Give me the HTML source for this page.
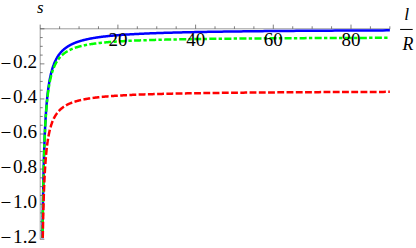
<!DOCTYPE html>
<html><head><meta charset="utf-8"><title>plot</title>
<style>
html,body{margin:0;padding:0;background:#fff;}
body{width:416px;height:248px;overflow:hidden;font-family:"Liberation Serif",serif;}
svg{display:block;}
</style></head><body>
<svg width="416" height="248" viewBox="0 0 416 248">
<rect width="416" height="248" fill="#fff"/>
<g stroke="#666" stroke-width="0.65" fill="none">
<line x1="40.2" y1="28.8" x2="390.15" y2="28.8"/>
<line x1="40.2" y1="28.8" x2="40.2" y2="239.52"/>
</g>
<g stroke="#484848" stroke-width="0.7" fill="none">
<line x1="40.20" y1="28.80" x2="40.20" y2="24.60"/>
<line x1="59.62" y1="28.80" x2="59.62" y2="26.30"/>
<line x1="79.05" y1="28.80" x2="79.05" y2="26.30"/>
<line x1="98.47" y1="28.80" x2="98.47" y2="26.30"/>
<line x1="117.90" y1="28.80" x2="117.90" y2="24.60"/>
<line x1="137.32" y1="28.80" x2="137.32" y2="26.30"/>
<line x1="156.75" y1="28.80" x2="156.75" y2="26.30"/>
<line x1="176.18" y1="28.80" x2="176.18" y2="26.30"/>
<line x1="195.60" y1="28.80" x2="195.60" y2="24.60"/>
<line x1="215.02" y1="28.80" x2="215.02" y2="26.30"/>
<line x1="234.45" y1="28.80" x2="234.45" y2="26.30"/>
<line x1="253.88" y1="28.80" x2="253.88" y2="26.30"/>
<line x1="273.30" y1="28.80" x2="273.30" y2="24.60"/>
<line x1="292.72" y1="28.80" x2="292.72" y2="26.30"/>
<line x1="312.15" y1="28.80" x2="312.15" y2="26.30"/>
<line x1="331.57" y1="28.80" x2="331.57" y2="26.30"/>
<line x1="351.00" y1="28.80" x2="351.00" y2="24.60"/>
<line x1="370.42" y1="28.80" x2="370.42" y2="26.30"/>
<line x1="389.85" y1="28.80" x2="389.85" y2="26.30"/>
<line x1="40.20" y1="28.80" x2="44.40" y2="28.80"/>
<line x1="40.20" y1="37.57" x2="42.70" y2="37.57"/>
<line x1="40.20" y1="46.34" x2="42.70" y2="46.34"/>
<line x1="40.20" y1="55.10" x2="42.70" y2="55.10"/>
<line x1="40.20" y1="63.87" x2="44.40" y2="63.87"/>
<line x1="40.20" y1="72.64" x2="42.70" y2="72.64"/>
<line x1="40.20" y1="81.41" x2="42.70" y2="81.41"/>
<line x1="40.20" y1="90.17" x2="42.70" y2="90.17"/>
<line x1="40.20" y1="98.94" x2="44.40" y2="98.94"/>
<line x1="40.20" y1="107.71" x2="42.70" y2="107.71"/>
<line x1="40.20" y1="116.47" x2="42.70" y2="116.47"/>
<line x1="40.20" y1="125.24" x2="42.70" y2="125.24"/>
<line x1="40.20" y1="134.01" x2="44.40" y2="134.01"/>
<line x1="40.20" y1="142.78" x2="42.70" y2="142.78"/>
<line x1="40.20" y1="151.55" x2="42.70" y2="151.55"/>
<line x1="40.20" y1="160.31" x2="42.70" y2="160.31"/>
<line x1="40.20" y1="169.08" x2="44.40" y2="169.08"/>
<line x1="40.20" y1="177.85" x2="42.70" y2="177.85"/>
<line x1="40.20" y1="186.62" x2="42.70" y2="186.62"/>
<line x1="40.20" y1="195.38" x2="42.70" y2="195.38"/>
<line x1="40.20" y1="204.15" x2="44.40" y2="204.15"/>
<line x1="40.20" y1="212.92" x2="42.70" y2="212.92"/>
<line x1="40.20" y1="221.69" x2="42.70" y2="221.69"/>
<line x1="40.20" y1="230.45" x2="42.70" y2="230.45"/>
<line x1="40.20" y1="239.22" x2="44.40" y2="239.22"/>
</g>
<g fill="none" stroke-width="2.5" stroke-linejoin="round">
<path stroke="#0000ff" d="M42.51 238.34L42.53 236.25L42.55 234.17L42.58 232.12L42.60 230.08L42.62 228.07L42.65 226.08L42.67 224.10L42.70 222.15L42.72 220.21L42.75 218.30L42.78 216.40L42.80 214.53L42.83 212.67L42.85 210.83L42.88 209.01L42.91 207.21L42.94 205.42L42.96 203.66L42.99 201.91L43.02 200.17L43.05 198.46L43.08 196.76L43.11 195.08L43.14 193.42L43.17 191.77L43.20 190.14L43.23 188.53L43.26 186.93L43.29 185.35L43.32 183.78L43.35 182.23L43.38 180.70L43.41 179.18L43.45 177.68L43.48 176.19L43.51 174.71L43.55 173.25L43.58 171.81L43.61 170.38L43.65 168.96L43.68 167.56L43.72 166.17L43.75 164.80L43.79 163.44L43.83 162.09L43.86 160.76L43.90 159.44L43.94 158.14L43.98 156.84L44.01 155.56L44.05 154.29L44.09 153.04L44.13 151.80L44.17 150.57L44.21 149.35L44.25 148.15L44.29 146.95L44.33 145.77L44.37 144.60L44.42 143.44L44.46 142.30L44.50 141.16L44.55 140.04L44.59 138.93L44.63 137.83L44.68 136.74L44.72 135.66L44.77 134.59L44.82 133.53L44.86 132.48L44.91 131.45L44.96 130.42L45.01 129.41L45.06 128.40L45.10 127.41L45.15 126.42L45.20 125.44L45.25 124.48L45.31 123.52L45.36 122.58L45.41 121.64L45.46 120.71L45.52 119.79L45.57 118.88L45.62 117.98L45.68 117.09L45.73 116.21L45.79 115.34L45.85 114.47L45.90 113.61L45.96 112.77L46.02 111.93L46.08 111.10L46.14 110.28L46.20 109.46L46.26 108.66L46.32 107.86L46.38 107.07L46.44 106.29L46.51 105.51L46.57 104.75L46.64 103.99L46.70 103.24L46.77 102.49L46.83 101.76L46.90 101.03L46.97 100.31L47.04 99.59L47.11 98.88L47.17 98.18L47.25 97.49L47.32 96.81L47.39 96.13L47.46 95.45L47.53 94.79L47.61 94.13L47.68 93.48L47.76 92.83L47.84 92.19L47.91 91.56L47.99 90.93L48.07 90.31L48.15 89.70L48.23 89.09L48.31 88.49L48.39 87.89L48.48 87.30L48.56 86.72L48.64 86.14L48.73 85.57L48.82 85.00L48.90 84.44L48.99 83.88L49.08 83.33L49.17 82.79L49.26 82.25L49.35 81.72L49.45 81.19L49.54 80.67L49.63 80.15L49.73 79.64L49.82 79.13L49.92 78.63L50.02 78.13L50.12 77.64L50.22 77.15L50.32 76.67L50.42 76.19L50.53 75.72L50.63 75.25L50.74 74.79L50.84 74.33L50.95 73.87L51.06 73.42L51.17 72.98L51.28 72.54L51.39 72.10L51.51 71.67L51.62 71.24L51.74 70.82L51.85 70.40L51.97 69.99L52.09 69.58L52.21 69.17L52.33 68.77L52.45 68.37L52.58 67.97L52.70 67.58L52.83 67.20L52.96 66.81L53.09 66.44L53.22 66.06L53.35 65.69L53.48 65.32L53.62 64.96L53.75 64.60L53.89 64.24L54.03 63.89L54.17 63.54L54.31 63.19L54.45 62.85L54.59 62.51L54.74 62.17L54.89 61.84L55.04 61.51L55.19 61.19L55.34 60.86L55.49 60.54L55.65 60.23L55.80 59.92L55.96 59.61L56.12 59.30L56.28 59.00L56.44 58.70L56.61 58.40L56.77 58.10L56.94 57.81L57.11 57.52L57.28 57.24L57.45 56.95L57.63 56.67L57.80 56.40L57.98 56.12L58.16 55.85L58.34 55.58L58.53 55.31L58.71 55.05L58.90 54.79L59.09 54.53L59.28 54.28L59.47 54.02L59.67 53.77L59.86 53.52L60.06 53.28L60.26 53.03L60.47 52.79L60.67 52.55L60.88 52.32L61.09 52.08L61.30 51.85L61.51 51.62L61.73 51.40L61.95 51.17L62.17 50.95L62.39 50.73L62.61 50.51L62.84 50.30L63.07 50.08L63.30 49.87L63.53 49.66L63.77 49.46L64.01 49.25L64.25 49.05L64.49 48.85L64.74 48.65L64.99 48.45L65.24 48.26L65.49 48.06L65.75 47.87L66.00 47.68L66.27 47.50L66.53 47.31L66.80 47.13L67.06 46.94L67.34 46.76L67.61 46.59L67.89 46.41L68.17 46.24L68.45 46.06L68.74 45.89L69.02 45.72L69.32 45.55L69.61 45.39L69.91 45.22L70.21 45.06L70.51 44.90L70.82 44.74L71.13 44.58L71.44 44.43L71.76 44.27L72.08 44.12L72.40 43.97L72.72 43.82L73.05 43.67L73.39 43.52L73.72 43.38L74.06 43.23L74.40 43.09L74.75 42.95L75.10 42.81L75.45 42.67L75.81 42.53L76.17 42.40L76.53 42.26L76.90 42.13L77.27 42.00L77.65 41.87L78.02 41.74L78.41 41.61L78.79 41.48L79.18 41.36L79.58 41.23L79.98 41.11L80.38 40.99L80.78 40.87L81.20 40.75L81.61 40.63L82.03 40.52L82.45 40.40L82.88 40.29L83.31 40.17L83.75 40.06L84.19 39.95L84.63 39.84L85.08 39.73L85.54 39.62L85.99 39.52L86.46 39.41L86.92 39.31L87.40 39.20L87.87 39.10L88.36 39.00L88.84 38.90L89.34 38.80L89.83 38.70L90.33 38.60L90.84 38.51L91.35 38.41L91.87 38.32L92.39 38.22L92.92 38.13L93.46 38.04L93.99 37.95L94.54 37.86L95.09 37.77L95.64 37.68L96.20 37.59L96.77 37.51L97.34 37.42L97.92 37.34L98.50 37.25L99.09 37.17L99.69 37.09L100.29 37.01L100.90 36.93L101.51 36.85L102.13 36.77L102.76 36.69L103.39 36.61L104.03 36.54L104.68 36.46L105.33 36.39L105.99 36.31L106.65 36.24L107.32 36.17L108.00 36.09L108.69 36.02L109.38 35.95L110.08 35.88L110.79 35.81L111.50 35.75L112.22 35.68L112.95 35.61L113.69 35.54L114.43 35.48L115.18 35.41L115.94 35.35L116.71 35.28L117.48 35.22L118.26 35.16L119.05 35.10L119.85 35.04L120.65 34.98L121.47 34.92L122.29 34.86L123.12 34.80L123.96 34.74L124.81 34.68L125.66 34.62L126.53 34.57L127.40 34.51L128.28 34.46L129.17 34.40L130.07 34.35L130.98 34.29L131.90 34.24L132.83 34.19L133.76 34.13L134.71 34.08L135.67 34.03L136.63 33.98L137.61 33.93L138.59 33.88L139.59 33.83L140.59 33.78L141.61 33.74L142.63 33.69L143.67 33.64L144.72 33.59L145.77 33.55L146.84 33.50L147.92 33.46L149.01 33.41L150.11 33.37L151.22 33.32L152.34 33.28L153.48 33.24L154.62 33.19L155.78 33.15L156.95 33.11L158.13 33.07L159.32 33.03L160.53 32.99L161.75 32.95L162.97 32.91L164.22 32.87L165.47 32.83L166.74 32.79L168.02 32.75L169.31 32.71L170.62 32.68L171.94 32.64L173.27 32.60L174.61 32.57L175.97 32.53L177.35 32.50L178.73 32.46L180.13 32.42L181.55 32.39L182.98 32.36L184.42 32.32L185.88 32.29L187.36 32.26L188.84 32.22L190.35 32.19L191.87 32.16L193.40 32.13L194.95 32.09L196.51 32.06L198.10 32.03L199.69 32.00L201.31 31.97L202.93 31.94L204.58 31.91L206.24 31.88L207.92 31.85L209.62 31.82L211.33 31.80L213.06 31.77L214.81 31.74L216.58 31.71L218.36 31.68L220.16 31.66L221.98 31.63L223.82 31.60L225.68 31.58L227.56 31.55L229.45 31.53L231.36 31.50L233.30 31.48L235.25 31.45L237.22 31.43L239.22 31.40L241.23 31.38L243.26 31.35L245.32 31.33L247.39 31.31L249.49 31.28L251.60 31.26L253.74 31.24L255.90 31.21L258.08 31.19L260.29 31.17L262.51 31.15L264.76 31.12L267.03 31.10L269.33 31.08L271.64 31.06L273.98 31.04L276.35 31.02L278.74 31.00L281.15 30.98L283.59 30.96L286.05 30.94L288.54 30.92L291.05 30.90L293.58 30.88L296.15 30.86L298.74 30.84L301.35 30.82L303.99 30.81L306.66 30.79L309.35 30.77L312.08 30.75L314.83 30.73L317.60 30.72L320.41 30.70L323.24 30.68L326.11 30.66L329.00 30.65L331.92 30.63L334.87 30.61L337.85 30.60L340.86 30.58L343.90 30.56L346.97 30.55L350.08 30.53L353.21 30.52L356.38 30.50L359.57 30.49L362.80 30.47L366.07 30.46L369.36 30.44L372.69 30.43L376.05 30.41L379.45 30.40L382.88 30.38L386.35 30.37L389.85 30.36"/>
<path stroke="#00ff00" stroke-dasharray="0.00 0.57 3.34 2.39 7.05 2.28 3.34 2.39 7.05 2.28 3.34 2.39 7.05 2.28 3.34 2.39 7.05 2.28 3.34 2.38 7.05 2.28 3.34 2.39 7.05 2.28 3.34 2.38 7.05 2.28 3.34 2.38 7.05 2.28 3.34 2.32 7.05 2.28 3.34 2.29 7.05 2.28 3.34 2.29 7.05 2.28 3.34 2.29 7.05 2.28 3.34 2.29 7.05 2.28 3.34 2.29 7.05 2.28 3.34 2.29 7.05 2.28 3.34 2.29 7.05 2.28 3.34 2.29 7.05 2.28 3.34 2.33 7.05 2.28 3.34 2.38 7.05 2.28 3.34 2.38 7.05 2.28 3.34 2.38 7.05 2.28 3.34 2.38 7.05 2.28 3.34 2.38 7.05 2.28 3.34 2.38 7.05 2.28 3.34 2.38 7.05 2.28 3.34 2.38 7.05 2.28 3.34 2.38 7.05 2.28 3.34 2.38 7.05 2.28 3.34 2.38 7.05 2.28 3.34 2.38 7.05 2.28 3.34 2.38 7.05 2.28 3.34 2.38 7.05 2.28 3.34 2.38 7.05 2.28 3.34 2.38 7.05 2.28 3.34 2.39 7.05 2.28 3.34 2.38 7.05 2.28 3.34 50.00" d="M42.51 238.34L42.54 236.26L42.56 234.20L42.58 232.16L42.61 230.15L42.63 228.15L42.66 226.17L42.68 224.21L42.71 222.27L42.73 220.36L42.76 218.46L42.78 216.58L42.81 214.72L42.84 212.87L42.86 211.05L42.89 209.24L42.92 207.46L42.94 205.69L42.97 203.94L43.00 202.20L43.03 200.49L43.06 198.79L43.09 197.11L43.12 195.44L43.14 193.79L43.17 192.16L43.20 190.55L43.23 188.95L43.27 187.37L43.30 185.80L43.33 184.25L43.36 182.72L43.39 181.20L43.42 179.69L43.46 178.21L43.49 176.73L43.52 175.27L43.56 173.83L43.59 172.40L43.62 170.99L43.66 169.59L43.69 168.20L43.73 166.83L43.76 165.47L43.80 164.13L43.84 162.79L43.87 161.48L43.91 160.17L43.95 158.88L43.99 157.60L44.02 156.34L44.06 155.09L44.10 153.85L44.14 152.62L44.18 151.41L44.22 150.21L44.26 149.02L44.30 147.84L44.34 146.67L44.39 145.52L44.43 144.38L44.47 143.25L44.52 142.13L44.56 141.02L44.60 139.93L44.65 138.84L44.69 137.77L44.74 136.71L44.78 135.65L44.83 134.61L44.88 133.58L44.92 132.56L44.97 131.55L45.02 130.55L45.07 129.56L45.12 128.58L45.17 127.61L45.22 126.66L45.27 125.71L45.32 124.77L45.37 123.84L45.42 122.92L45.48 122.00L45.53 121.10L45.58 120.21L45.64 119.33L45.69 118.45L45.75 117.59L45.80 116.73L45.86 115.88L45.92 115.04L45.98 114.21L46.03 113.39L46.09 112.58L46.15 111.77L46.21 110.98L46.27 110.19L46.34 109.41L46.40 108.63L46.46 107.87L46.52 107.11L46.59 106.36L46.65 105.62L46.72 104.89L46.78 104.16L46.85 103.45L46.92 102.74L46.98 102.03L47.05 101.34L47.12 100.65L47.19 99.96L47.26 99.29L47.33 98.62L47.41 97.96L47.48 97.31L47.55 96.66L47.63 96.02L47.70 95.38L47.78 94.76L47.86 94.13L47.93 93.52L48.01 92.91L48.09 92.31L48.17 91.71L48.25 91.13L48.33 90.54L48.41 89.96L48.50 89.39L48.58 88.83L48.66 88.27L48.75 87.72L48.84 87.17L48.92 86.63L49.01 86.09L49.10 85.56L49.19 85.03L49.28 84.51L49.37 84.00L49.47 83.49L49.56 82.99L49.66 82.49L49.75 82.00L49.85 81.51L49.94 81.03L50.04 80.55L50.14 80.08L50.24 79.61L50.34 79.14L50.45 78.69L50.55 78.23L50.66 77.79L50.76 77.34L50.87 76.90L50.98 76.47L51.08 76.04L51.19 75.61L51.31 75.19L51.42 74.78L51.53 74.37L51.65 73.96L51.76 73.56L51.88 73.16L52.00 72.76L52.12 72.37L52.24 71.99L52.36 71.60L52.48 71.22L52.60 70.85L52.73 70.48L52.86 70.11L52.98 69.75L53.11 69.39L53.24 69.04L53.38 68.69L53.51 68.34L53.64 68.00L53.78 67.66L53.92 67.32L54.06 66.99L54.20 66.66L54.34 66.34L54.48 66.01L54.62 65.69L54.77 65.38L54.92 65.07L55.07 64.76L55.22 64.45L55.37 64.15L55.52 63.85L55.68 63.56L55.83 63.27L55.99 62.98L56.15 62.69L56.31 62.41L56.47 62.13L56.64 61.85L56.81 61.58L56.97 61.31L57.14 61.04L57.31 60.78L57.49 60.51L57.66 60.25L57.84 60.00L58.02 59.74L58.20 59.49L58.38 59.25L58.56 59.00L58.75 58.76L58.94 58.52L59.12 58.28L59.32 58.04L59.51 57.81L59.70 57.58L59.90 57.35L60.10 57.13L60.30 56.91L60.51 56.69L60.71 56.47L60.92 56.25L61.13 56.04L61.34 55.83L61.55 55.62L61.77 55.42L61.99 55.21L62.21 55.01L62.43 54.81L62.65 54.61L62.88 54.42L63.11 54.23L63.34 54.04L63.57 53.85L63.81 53.66L64.05 53.48L64.29 53.29L64.53 53.11L64.78 52.93L65.03 52.76L65.28 52.58L65.53 52.41L65.79 52.24L66.05 52.07L66.31 51.90L66.57 51.74L66.84 51.58L67.11 51.41L67.38 51.25L67.66 51.10L67.93 50.94L68.21 50.78L68.50 50.63L68.78 50.48L69.07 50.33L69.36 50.18L69.66 50.04L69.96 49.89L70.26 49.75L70.56 49.61L70.87 49.47L71.18 49.33L71.49 49.19L71.81 49.06L72.13 48.92L72.45 48.79L72.77 48.66L73.10 48.53L73.44 48.40L73.77 48.28L74.11 48.15L74.45 48.03L74.80 47.91L75.15 47.78L75.50 47.67L75.86 47.55L76.22 47.43L76.59 47.31L76.95 47.20L77.32 47.09L77.70 46.97L78.08 46.86L78.46 46.75L78.85 46.65L79.24 46.54L79.63 46.43L80.03 46.33L80.43 46.23L80.84 46.12L81.25 46.02L81.67 45.92L82.09 45.82L82.51 45.73L82.94 45.63L83.37 45.53L83.81 45.44L84.25 45.34L84.69 45.25L85.14 45.16L85.60 45.07L86.05 44.98L86.52 44.89L86.99 44.80L87.46 44.72L87.94 44.63L88.42 44.55L88.91 44.46L89.40 44.38L89.90 44.30L90.40 44.22L90.91 44.14L91.42 44.06L91.94 43.98L92.46 43.90L92.99 43.83L93.52 43.75L94.06 43.68L94.60 43.60L95.15 43.53L95.71 43.46L96.27 43.39L96.84 43.32L97.41 43.25L97.99 43.18L98.57 43.11L99.16 43.04L99.76 42.97L100.36 42.91L100.97 42.84L101.58 42.78L102.20 42.71L102.83 42.65L103.46 42.59L104.10 42.53L104.75 42.47L105.40 42.40L106.06 42.35L106.72 42.29L107.40 42.23L108.08 42.17L108.76 42.11L109.45 42.06L110.15 42.00L110.86 41.94L111.58 41.89L112.30 41.84L113.03 41.78L113.76 41.73L114.51 41.68L115.26 41.63L116.02 41.57L116.78 41.52L117.56 41.47L118.34 41.42L119.13 41.37L119.93 41.33L120.73 41.28L121.55 41.23L122.37 41.18L123.20 41.14L124.04 41.09L124.88 41.05L125.74 41.00L126.60 40.96L127.48 40.91L128.36 40.87L129.25 40.83L130.15 40.79L131.06 40.74L131.98 40.70L132.91 40.66L133.84 40.62L134.79 40.58L135.75 40.54L136.71 40.50L137.69 40.46L138.67 40.42L139.67 40.39L140.67 40.35L141.69 40.31L142.71 40.28L143.75 40.24L144.80 40.20L145.85 40.17L146.92 40.13L148.00 40.10L149.09 40.06L150.19 40.03L151.30 40.00L152.43 39.96L153.56 39.93L154.71 39.90L155.86 39.86L157.03 39.83L158.21 39.80L159.41 39.77L160.61 39.74L161.83 39.71L163.06 39.68L164.30 39.65L165.55 39.62L166.82 39.59L168.10 39.56L169.39 39.53L170.70 39.50L172.02 39.48L173.35 39.45L174.70 39.42L176.06 39.39L177.43 39.37L178.82 39.34L180.22 39.32L181.63 39.29L183.06 39.26L184.51 39.24L185.96 39.21L187.44 39.19L188.93 39.16L190.43 39.14L191.95 39.12L193.48 39.09L195.03 39.07L196.60 39.05L198.18 39.02L199.77 39.00L201.39 38.98L203.02 38.96L204.66 38.93L206.32 38.91L208.00 38.89L209.70 38.87L211.41 38.85L213.14 38.83L214.89 38.81L216.66 38.79L218.44 38.77L220.24 38.75L222.06 38.73L223.90 38.71L225.76 38.69L227.63 38.67L229.53 38.65L231.44 38.63L233.37 38.61L235.33 38.59L237.30 38.58L239.29 38.56L241.30 38.54L243.33 38.52L245.39 38.51L247.46 38.49L249.56 38.47L251.67 38.45L253.81 38.44L255.97 38.42L258.15 38.40L260.35 38.39L262.58 38.37L264.83 38.36L267.10 38.34L269.39 38.33L271.71 38.31L274.05 38.30L276.41 38.28L278.80 38.27L281.21 38.25L283.64 38.24L286.11 38.22L288.59 38.21L291.10 38.19L293.64 38.18L296.20 38.17L298.79 38.15L301.40 38.14L304.04 38.13L306.71 38.11L309.40 38.10L312.12 38.09L314.87 38.07L317.65 38.06L320.45 38.05L323.28 38.04L326.14 38.02L329.03 38.01L331.95 38.00L334.90 37.99L337.88 37.98L340.89 37.97L343.93 37.95L347.00 37.94L350.10 37.93L353.23 37.92L356.40 37.91L359.59 37.90L362.82 37.89L366.08 37.88L369.38 37.87L372.70 37.86L376.06 37.85L379.46 37.84L382.89 37.83L386.35 37.82L389.85 37.81"/>
<path stroke="#ff0000" stroke-dasharray="6.85 2.395" stroke-dashoffset="8.785" d="M42.75 238.34L42.78 236.90L42.80 235.46L42.83 234.04L42.86 232.64L42.88 231.25L42.91 229.87L42.94 228.50L42.96 227.15L42.99 225.81L43.02 224.49L43.05 223.18L43.07 221.88L43.10 220.59L43.13 219.32L43.16 218.06L43.19 216.81L43.22 215.57L43.25 214.35L43.28 213.14L43.31 211.94L43.34 210.75L43.37 209.57L43.40 208.41L43.43 207.25L43.47 206.11L43.50 204.98L43.53 203.86L43.56 202.75L43.60 201.65L43.63 200.56L43.67 199.49L43.70 198.42L43.73 197.36L43.77 196.32L43.81 195.28L43.84 194.26L43.88 193.24L43.91 192.24L43.95 191.24L43.99 190.26L44.02 189.28L44.06 188.31L44.10 187.36L44.14 186.41L44.18 185.47L44.22 184.54L44.26 183.62L44.30 182.71L44.34 181.81L44.38 180.92L44.42 180.03L44.46 179.16L44.51 178.29L44.55 177.43L44.59 176.58L44.63 175.74L44.68 174.91L44.72 174.08L44.77 173.26L44.81 172.46L44.86 171.65L44.90 170.86L44.95 170.08L45.00 169.30L45.05 168.53L45.09 167.76L45.14 167.01L45.19 166.26L45.24 165.52L45.29 164.79L45.34 164.06L45.39 163.34L45.44 162.63L45.50 161.93L45.55 161.23L45.60 160.54L45.65 159.85L45.71 159.18L45.76 158.50L45.82 157.84L45.87 157.18L45.93 156.53L45.99 155.89L46.04 155.25L46.10 154.61L46.16 153.99L46.22 153.37L46.28 152.75L46.34 152.15L46.40 151.54L46.46 150.95L46.52 150.36L46.59 149.77L46.65 149.20L46.71 148.62L46.78 148.05L46.84 147.49L46.91 146.94L46.98 146.39L47.04 145.84L47.11 145.30L47.18 144.77L47.25 144.24L47.32 143.71L47.39 143.19L47.46 142.68L47.53 142.17L47.60 141.66L47.68 141.17L47.75 140.67L47.83 140.18L47.90 139.70L47.98 139.22L48.06 138.74L48.13 138.27L48.21 137.81L48.29 137.34L48.37 136.89L48.45 136.44L48.53 135.99L48.62 135.54L48.70 135.11L48.78 134.67L48.87 134.24L48.96 133.81L49.04 133.39L49.13 132.97L49.22 132.56L49.31 132.15L49.40 131.74L49.49 131.34L49.58 130.94L49.67 130.55L49.77 130.16L49.86 129.77L49.96 129.39L50.05 129.01L50.15 128.64L50.25 128.27L50.35 127.90L50.45 127.53L50.55 127.17L50.66 126.82L50.76 126.46L50.86 126.11L50.97 125.77L51.08 125.42L51.18 125.08L51.29 124.75L51.40 124.41L51.51 124.08L51.63 123.76L51.74 123.43L51.85 123.11L51.97 122.80L52.09 122.48L52.20 122.17L52.32 121.86L52.44 121.56L52.56 121.26L52.69 120.96L52.81 120.66L52.93 120.37L53.06 120.08L53.19 119.79L53.32 119.51L53.45 119.23L53.58 118.95L53.71 118.67L53.84 118.40L53.98 118.13L54.12 117.86L54.25 117.59L54.39 117.33L54.53 117.07L54.68 116.81L54.82 116.56L54.96 116.30L55.11 116.05L55.26 115.80L55.41 115.56L55.56 115.32L55.71 115.08L55.86 114.84L56.02 114.60L56.18 114.37L56.33 114.14L56.49 113.91L56.66 113.68L56.82 113.46L56.98 113.23L57.15 113.01L57.32 112.79L57.49 112.58L57.66 112.37L57.83 112.15L58.01 111.94L58.18 111.74L58.36 111.53L58.54 111.33L58.72 111.13L58.91 110.93L59.09 110.73L59.28 110.53L59.47 110.34L59.66 110.15L59.85 109.96L60.05 109.77L60.24 109.58L60.44 109.40L60.64 109.22L60.84 109.04L61.05 108.86L61.25 108.68L61.46 108.50L61.67 108.33L61.89 108.16L62.10 107.99L62.32 107.82L62.54 107.65L62.76 107.49L62.98 107.32L63.21 107.16L63.44 107.00L63.67 106.84L63.90 106.68L64.13 106.53L64.37 106.37L64.61 106.22L64.85 106.07L65.10 105.92L65.34 105.77L65.59 105.62L65.84 105.48L66.10 105.33L66.35 105.19L66.61 105.05L66.88 104.91L67.14 104.77L67.41 104.63L67.68 104.50L67.95 104.36L68.22 104.23L68.50 104.10L68.78 103.97L69.06 103.84L69.35 103.71L69.64 103.58L69.93 103.46L70.23 103.33L70.52 103.21L70.82 103.09L71.13 102.97L71.43 102.85L71.74 102.73L72.06 102.61L72.37 102.50L72.69 102.38L73.01 102.27L73.34 102.16L73.66 102.04L74.00 101.93L74.33 101.82L74.67 101.72L75.01 101.61L75.36 101.50L75.70 101.40L76.06 101.29L76.41 101.19L76.77 101.09L77.13 100.99L77.50 100.89L77.87 100.79L78.24 100.69L78.62 100.59L79.00 100.50L79.38 100.40L79.77 100.31L80.16 100.21L80.56 100.12L80.96 100.03L81.36 99.94L81.77 99.85L82.18 99.76L82.60 99.67L83.02 99.58L83.44 99.50L83.87 99.41L84.30 99.33L84.74 99.24L85.18 99.16L85.63 99.08L86.08 99.00L86.53 98.92L86.99 98.84L87.45 98.76L87.92 98.68L88.40 98.60L88.87 98.53L89.36 98.45L89.84 98.37L90.33 98.30L90.83 98.23L91.33 98.15L91.84 98.08L92.35 98.01L92.87 97.94L93.39 97.87L93.92 97.80L94.45 97.73L94.99 97.66L95.53 97.59L96.08 97.53L96.63 97.46L97.19 97.40L97.75 97.33L98.33 97.27L98.90 97.20L99.48 97.14L100.07 97.08L100.66 97.02L101.26 96.96L101.87 96.90L102.48 96.84L103.10 96.78L103.72 96.72L104.35 96.66L104.98 96.60L105.62 96.54L106.27 96.49L106.93 96.43L107.59 96.38L108.26 96.32L108.93 96.27L109.61 96.21L110.30 96.16L110.99 96.11L111.70 96.06L112.40 96.00L113.12 95.95L113.84 95.90L114.57 95.85L115.31 95.80L116.05 95.75L116.80 95.70L117.56 95.66L118.33 95.61L119.10 95.56L119.89 95.51L120.67 95.47L121.47 95.42L122.28 95.38L123.09 95.33L123.91 95.29L124.74 95.24L125.58 95.20L126.42 95.16L127.28 95.11L128.14 95.07L129.01 95.03L129.89 94.99L130.78 94.95L131.68 94.90L132.59 94.86L133.50 94.82L134.43 94.78L135.36 94.75L136.30 94.71L137.25 94.67L138.22 94.63L139.19 94.59L140.17 94.55L141.16 94.52L142.16 94.48L143.17 94.44L144.19 94.41L145.22 94.37L146.26 94.34L147.31 94.30L148.37 94.27L149.44 94.23L150.52 94.20L151.62 94.17L152.72 94.13L153.84 94.10L154.96 94.07L156.10 94.04L157.25 94.00L158.41 93.97L159.58 93.94L160.76 93.91L161.96 93.88L163.16 93.85L164.38 93.82L165.61 93.79L166.85 93.76L168.11 93.73L169.38 93.70L170.66 93.67L171.95 93.65L173.25 93.62L174.57 93.59L175.90 93.56L177.25 93.54L178.61 93.51L179.98 93.48L181.36 93.45L182.76 93.43L184.17 93.40L185.60 93.38L187.04 93.35L188.49 93.33L189.96 93.30L191.45 93.28L192.95 93.25L194.46 93.23L195.99 93.20L197.53 93.18L199.09 93.16L200.66 93.13L202.25 93.11L203.86 93.09L205.48 93.07L207.12 93.04L208.77 93.02L210.44 93.00L212.13 92.98L213.83 92.96L215.55 92.93L217.29 92.91L219.05 92.89L220.82 92.87L222.61 92.85L224.41 92.83L226.24 92.81L228.08 92.79L229.94 92.77L231.82 92.75L233.72 92.73L235.64 92.71L237.58 92.69L239.53 92.68L241.51 92.66L243.50 92.64L245.52 92.62L247.55 92.60L249.60 92.59L251.68 92.57L253.77 92.55L255.89 92.53L258.03 92.52L260.19 92.50L262.36 92.48L264.57 92.47L266.79 92.45L269.03 92.43L271.30 92.42L273.59 92.40L275.90 92.38L278.24 92.37L280.60 92.35L282.98 92.34L285.38 92.32L287.81 92.31L290.27 92.29L292.74 92.28L295.25 92.26L297.77 92.25L300.33 92.23L302.90 92.22L305.51 92.21L308.13 92.19L310.79 92.18L313.47 92.16L316.18 92.15L318.91 92.14L321.67 92.12L324.46 92.11L327.28 92.10L330.12 92.09L332.99 92.07L335.90 92.06L338.83 92.05L341.78 92.04L344.77 92.02L347.79 92.01L350.84 92.00L353.91 91.99L357.02 91.98L360.16 91.96L363.33 91.95L366.53 91.94L369.77 91.93L373.03 91.92L376.33 91.91L379.66 91.90L383.02 91.89L386.42 91.87L389.85 91.86"/>
</g>
<rect x="400.1" y="28.95" width="12.6" height="1" fill="#000" stroke="none"/>
<g font-family="'Liberation Serif', serif" font-size="19" fill="#000" stroke="none">
<text x="117.95" y="45.5" text-anchor="middle">20</text>
<text x="195.65" y="45.5" text-anchor="middle">40</text>
<text x="273.35" y="45.5" text-anchor="middle">60</text>
<text x="351.05" y="45.5" text-anchor="middle">80</text>
<text font-size="19.2"><tspan x="0.6" y="69.65">−</tspan><tspan x="13.1" y="68.17">0.2</tspan></text>
<text font-size="19.2"><tspan x="0.6" y="104.57">−</tspan><tspan x="13.1" y="103.09">0.4</tspan></text>
<text font-size="19.2"><tspan x="0.6" y="139.49">−</tspan><tspan x="13.1" y="138.01">0.6</tspan></text>
<text font-size="19.2"><tspan x="0.6" y="174.41">−</tspan><tspan x="13.1" y="172.93">0.8</tspan></text>
<text font-size="19.2"><tspan x="0.6" y="209.33">−</tspan><tspan x="13.1" y="207.85">1.0</tspan></text>
<text font-size="19.2"><tspan x="0.6" y="244.25">−</tspan><tspan x="13.1" y="242.77">1.2</tspan></text>
<text x="37.1" y="13.2" font-size="16.8" font-style="italic">s</text>
<text x="404.3" y="20.3" font-size="17.5" font-style="italic">l</text>
<text x="402.4" y="50.2" font-size="17.8" font-style="italic">R</text>
</g>
</svg>
</body></html>
